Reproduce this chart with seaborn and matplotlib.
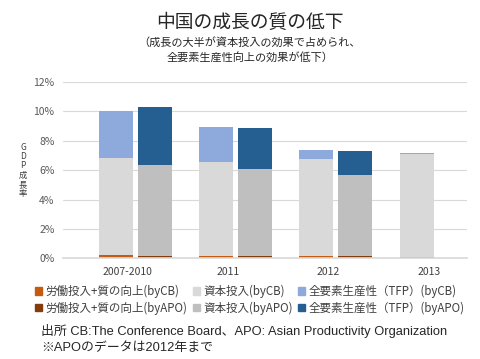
import pandas as pd
import seaborn as sns
import matplotlib.pyplot as plt
from matplotlib.patches import Patch

# data (% contribution to GDP growth)
periods = ["2007-2010", "2011", "2012", "2013"]
labor_cb = [0.25, 0.18, 0.18, 0.11]
capital_cb = [6.60, 6.40, 6.55, 6.96]
tfp_cb = [3.15, 2.33, 0.66, 0.12]
labor_apo = [0.18, 0.18, 0.18]
capital_apo = [6.20, 5.90, 5.50]
tfp_apo = [3.90, 2.80, 1.63]

labels_cb = ["労働投入+質の向上(byCB)", "資本投入(byCB)", "全要素生産性（TFP）(byCB)"]
labels_apo = ["労働投入+質の向上(byAPO)", "資本投入(byAPO)", "全要素生産性（TFP）(byAPO)"]
colors_cb = ["#C55A11", "#D9D9D9", "#8EA9DB"]
colors_apo = ["#843C0C", "#BFBFBF", "#255E91"]

rows = []
for i, p in enumerate(periods):
    rows.append({"period": p, "src": "CB", "labor": labor_cb[i],
                 "capital": capital_cb[i], "tfp": tfp_cb[i]})
    if i < len(labor_apo):
        rows.append({"period": p, "src": "APO", "labor": labor_apo[i],
                     "capital": capital_apo[i], "tfp": tfp_apo[i]})
df = pd.DataFrame(rows)
df["lvl1"] = df["labor"]
df["lvl2"] = df["labor"] + df["capital"]
df["lvl3"] = df["lvl2"] + df["tfp"]

sns.set_theme(style="white")
plt.rcParams["font.family"] = ["Noto Sans CJK JP", "DejaVu Sans"]

fig = plt.figure(figsize=(4.8, 3.59), dpi=100)
ax = fig.add_axes([0.131, 0.2805, 0.842, 0.491])

# draw the stacks from the top level down so each layer covers the one above
for col, k in [("lvl3", 2), ("lvl2", 1), ("lvl1", 0)]:
    sns.barplot(data=df, x="period", y=col, hue="src", hue_order=["CB", "APO"],
                order=periods, palette={"CB": colors_cb[k], "APO": colors_apo[k]},
                width=0.78, gap=0.13, saturation=1, errorbar=None,
                linewidth=0, legend=False, ax=ax)

ax.set_xlim(-0.724, 3.308)
ax.set_ylim(0, 12)
ax.set_yticks(range(0, 13, 2))
ax.set_yticklabels([f"{v}%" for v in range(0, 13, 2)], fontsize=7.5, color="#595959")
ax.set_xticks([i - 0.075 for i in range(len(periods))])
ax.set_xticklabels(periods, fontsize=7.5, color="#404040")
ax.tick_params(axis="both", length=0, pad=6)
ax.grid(axis="y", color="#D9D9D9", linewidth=0.8)
ax.set_axisbelow(True)
for s in ["top", "right", "left"]:
    ax.spines[s].set_visible(False)
ax.spines["bottom"].set_color("#D9D9D9")
ax.set_xlabel("")
ax.set_ylabel("")

fig.text(0.048, 0.525, "G\nD\nP\n成\n長\n率", fontsize=6, color="#404040",
         ha="center", va="center", linespacing=1.05)

fig.text(0.52, 0.938, "中国の成長の質の低下", fontsize=13.5, ha="center", va="center")
fig.text(0.52, 0.859, "（成長の大半が資本投入の効果で占められ、\n全要素生産性向上の効果が低下）",
         fontsize=8, ha="center", va="center", linespacing=1.5)

handles = []
for k in range(3):
    handles.append(Patch(color=colors_cb[k], label=labels_cb[k]))
    handles.append(Patch(color=colors_apo[k], label=labels_apo[k]))
fig.legend(handles=handles, ncol=3, loc="center", bbox_to_anchor=(0.52, 0.165),
           frameon=False, fontsize=8.3, handlelength=0.6, handleheight=0.6,
           handletextpad=0.3, columnspacing=0.5, labelspacing=0.3, labelcolor="#404040")

foot_font = ["Liberation Sans", "Noto Sans CJK JP"]
fig.text(0.085, 0.078, "出所 CB:The Conference Board、APO: Asian Productivity Organization",
         fontsize=9.3, ha="left", va="center", family=foot_font)
fig.text(0.085, 0.032, "※APOのデータは2012年まで", fontsize=9.3, ha="left", va="center",
         family=foot_font)

fig.savefig("out.png", dpi=100)
